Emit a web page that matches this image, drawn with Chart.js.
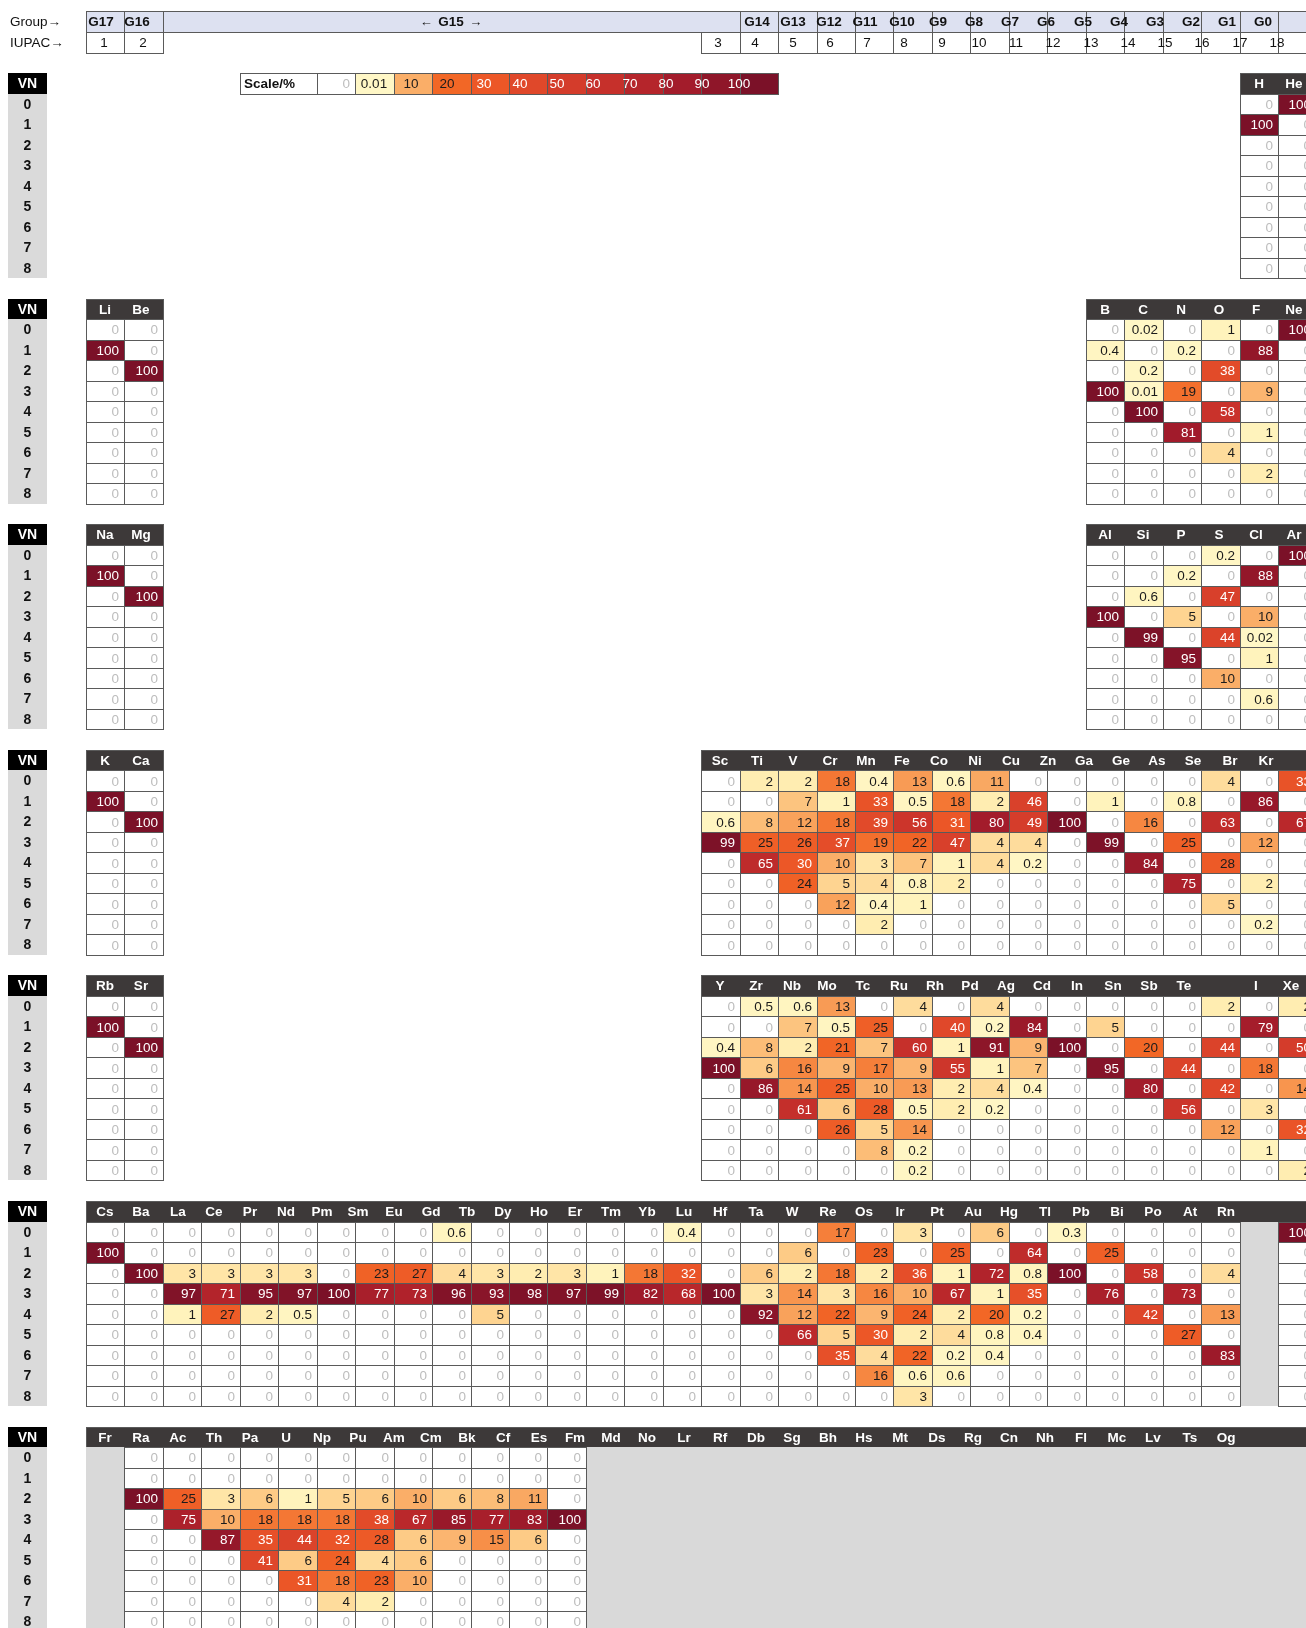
<!DOCTYPE html>
<html>
<head>
<meta charset="utf-8">
<script src="https://cdn.jsdelivr.net/npm/chart.js@4.4.1/dist/chart.umd.min.js"></script>
<style>
  html, body { margin: 0; padding: 0; background: #ffffff; }
  #wrap { width: 1306px; height: 1628px; overflow: hidden; }
  canvas { display: block; }
</style>
</head>
<body>
<div id="wrap"><canvas id="table" width="1306" height="1628"></canvas></div>
<script>
// ---------------------------------------------------------------
// Valence-number (VN) distribution per element, in percent.
// Each element lists the share of VN 0..8; null = no data.
// ---------------------------------------------------------------
const vnLabels = ['0', '1', '2', '3', '4', '5', '6', '7', '8'];

const groupLabels = ['G17', 'G16', 'G15', 'G14', 'G13', 'G12', 'G11', 'G10', 'G9', 'G8', 'G7', 'G6', 'G5', 'G4', 'G3', 'G2', 'G1', 'G0'];
const iupacLabels = ['1', '2', '3', '4', '5', '6', '7', '8', '9', '10', '11', '12', '13', '14', '15', '16', '17', '18'];

const scaleValues = [0, 0.01, 10, 20, 30, 40, 50, 60, 70, 80, 90, 100];
const scaleLabels = ['0', '0.01', '10', '20', '30', '40', '50', '60', '70', '80', '90', '100'];

// period 1
const p1Symbols = ['H', 'He'];
const p1Values = [
  [0, 100, 0, 0, 0, 0, 0, 0, 0],
  [100, 0, 0, 0, 0, 0, 0, 0, 0]
];

// period 2
const p2sSymbols = ['Li', 'Be'];
const p2sValues = [
  [0, 100, 0, 0, 0, 0, 0, 0, 0],
  [0, 0, 100, 0, 0, 0, 0, 0, 0]
];
const p2pSymbols = ['B', 'C', 'N', 'O', 'F', 'Ne'];
const p2pValues = [
  [0, 0.4, 0, 100, 0, 0, 0, 0, 0],
  [0.02, 0, 0.2, 0.01, 100, 0, 0, 0, 0],
  [0, 0.2, 0, 19, 0, 81, 0, 0, 0],
  [1, 0, 38, 0, 58, 0, 4, 0, 0],
  [0, 88, 0, 9, 0, 1, 0, 2, 0],
  [100, 0, 0, 0, 0, 0, 0, 0, 0]
];

// period 3
const p3sSymbols = ['Na', 'Mg'];
const p3sValues = [
  [0, 100, 0, 0, 0, 0, 0, 0, 0],
  [0, 0, 100, 0, 0, 0, 0, 0, 0]
];
const p3pSymbols = ['Al', 'Si', 'P', 'S', 'Cl', 'Ar'];
const p3pValues = [
  [0, 0, 0, 100, 0, 0, 0, 0, 0],
  [0, 0, 0.6, 0, 99, 0, 0, 0, 0],
  [0, 0.2, 0, 5, 0, 95, 0, 0, 0],
  [0.2, 0, 47, 0, 44, 0, 10, 0, 0],
  [0, 88, 0, 10, 0.02, 1, 0, 0.6, 0],
  [100, 0, 0, 0, 0, 0, 0, 0, 0]
];

// period 4
const p4sSymbols = ['K', 'Ca'];
const p4sValues = [
  [0, 100, 0, 0, 0, 0, 0, 0, 0],
  [0, 0, 100, 0, 0, 0, 0, 0, 0]
];
const p4dSymbols = ['Sc', 'Ti', 'V', 'Cr', 'Mn', 'Fe', 'Co', 'Ni', 'Cu', 'Zn', 'Ga', 'Ge', 'As', 'Se', 'Br', 'Kr'];
const p4dValues = [
  [0, 0, 0.6, 99, 0, 0, 0, 0, 0],
  [2, 0, 8, 25, 65, 0, 0, 0, 0],
  [2, 7, 12, 26, 30, 24, 0, 0, 0],
  [18, 1, 18, 37, 10, 5, 12, 0, 0],
  [0.4, 33, 39, 19, 3, 4, 0.4, 2, 0],
  [13, 0.5, 56, 22, 7, 0.8, 1, 0, 0],
  [0.6, 18, 31, 47, 1, 2, 0, 0, 0],
  [11, 2, 80, 4, 4, 0, 0, 0, 0],
  [0, 46, 49, 4, 0.2, 0, 0, 0, 0],
  [0, 0, 100, 0, 0, 0, 0, 0, 0],
  [0, 1, 0, 99, 0, 0, 0, 0, 0],
  [0, 0, 16, 0, 84, 0, 0, 0, 0],
  [0, 0.8, 0, 25, 0, 75, 0, 0, 0],
  [4, 0, 63, 0, 28, 0, 5, 0, 0],
  [0, 86, 0, 12, 0, 2, 0, 0.2, 0],
  [33, 0, 67, 0, 0, 0, 0, 0, 0]
];

// period 5
const p5sSymbols = ['Rb', 'Sr'];
const p5sValues = [
  [0, 100, 0, 0, 0, 0, 0, 0, 0],
  [0, 0, 100, 0, 0, 0, 0, 0, 0]
];
const p5dSymbols = ['Y', 'Zr', 'Nb', 'Mo', 'Tc', 'Ru', 'Rh', 'Pd', 'Ag', 'Cd', 'In', 'Sn', 'Sb', 'Te', 'I', 'Xe'];
const p5dHeader = ['Y', 'Zr', 'Nb', 'Mo', 'Tc', 'Ru', 'Rh', 'Pd', 'Ag', 'Cd', 'In', 'Sn', 'Sb', 'Te', '', 'I', 'Xe'];
const p5dValues = [
  [0, 0, 0.4, 100, 0, 0, 0, 0, 0],
  [0.5, 0, 8, 6, 86, 0, 0, 0, 0],
  [0.6, 7, 2, 16, 14, 61, 0, 0, 0],
  [13, 0.5, 21, 9, 25, 6, 26, 0, 0],
  [0, 25, 7, 17, 10, 28, 5, 8, 0],
  [4, 0, 60, 9, 13, 0.5, 14, 0.2, 0.2],
  [0, 40, 1, 55, 2, 2, 0, 0, 0],
  [4, 0.2, 91, 1, 4, 0.2, 0, 0, 0],
  [0, 84, 9, 7, 0.4, 0, 0, 0, 0],
  [0, 0, 100, 0, 0, 0, 0, 0, 0],
  [0, 5, 0, 95, 0, 0, 0, 0, 0],
  [0, 0, 20, 0, 80, 0, 0, 0, 0],
  [0, 0, 0, 44, 0, 56, 0, 0, 0],
  [2, 0, 44, 0, 42, 0, 12, 0, 0],
  [0, 79, 0, 18, 0, 3, 0, 1, 0],
  [2, 0, 50, 0, 14, 0, 32, 0, 2]
];

// period 6
const p6Symbols = ['Cs', 'Ba', 'La', 'Ce', 'Pr', 'Nd', 'Pm', 'Sm', 'Eu', 'Gd', 'Tb', 'Dy', 'Ho', 'Er', 'Tm', 'Yb',
  'Lu', 'Hf', 'Ta', 'W', 'Re', 'Os', 'Ir', 'Pt', 'Au', 'Hg', 'Tl', 'Pb', 'Bi', 'Po', 'At', 'Rn'];
const p6Values = [
  [0, 100, 0, 0, 0, 0, 0, 0, 0],
  [0, 0, 100, 0, 0, 0, 0, 0, 0],
  [0, 0, 3, 97, 1, 0, 0, 0, 0],
  [0, 0, 3, 71, 27, 0, 0, 0, 0],
  [0, 0, 3, 95, 2, 0, 0, 0, 0],
  [0, 0, 3, 97, 0.5, 0, 0, 0, 0],
  [0, 0, 0, 100, 0, 0, 0, 0, 0],
  [0, 0, 23, 77, 0, 0, 0, 0, 0],
  [0, 0, 27, 73, 0, 0, 0, 0, 0],
  [0.6, 0, 4, 96, 0, 0, 0, 0, 0],
  [0, 0, 3, 93, 5, 0, 0, 0, 0],
  [0, 0, 2, 98, 0, 0, 0, 0, 0],
  [0, 0, 3, 97, 0, 0, 0, 0, 0],
  [0, 0, 1, 99, 0, 0, 0, 0, 0],
  [0, 0, 18, 82, 0, 0, 0, 0, 0],
  [0.4, 0, 32, 68, 0, 0, 0, 0, 0],
  [0, 0, 0, 100, 0, 0, 0, 0, 0],
  [0, 0, 6, 3, 92, 0, 0, 0, 0],
  [0, 6, 2, 14, 12, 66, 0, 0, 0],
  [17, 0, 18, 3, 22, 5, 35, 0, 0],
  [0, 23, 2, 16, 9, 30, 4, 16, 0],
  [3, 0, 36, 10, 24, 2, 22, 0.6, 3],
  [0, 25, 1, 67, 2, 4, 0.2, 0.6, 0],
  [6, 0, 72, 1, 20, 0.8, 0.4, 0, 0],
  [0, 64, 0.8, 35, 0.2, 0.4, 0, 0, 0],
  [0.3, 0, 100, 0, 0, 0, 0, 0, 0],
  [0, 25, 0, 76, 0, 0, 0, 0, 0],
  [0, 0, 58, 0, 42, 0, 0, 0, 0],
  [0, 0, 0, 73, 0, 27, 0, 0, 0],
  [0, 0, 4, 0, 13, 0, 83, 0, 0],
  null,
  [100, 0, 0, 0, 0, 0, 0, 0, 0]
];

// period 7
const p7Symbols = ['Fr', 'Ra', 'Ac', 'Th', 'Pa', 'U', 'Np', 'Pu', 'Am', 'Cm', 'Bk', 'Cf', 'Es', 'Fm', 'Md', 'No',
  'Lr', 'Rf', 'Db', 'Sg', 'Bh', 'Hs', 'Mt', 'Ds', 'Rg', 'Cn', 'Nh', 'Fl', 'Mc', 'Lv', 'Ts', 'Og'];
const p7Values = [
  null,
  [0, 0, 100, 0, 0, 0, 0, 0, 0],
  [0, 0, 25, 75, 0, 0, 0, 0, 0],
  [0, 0, 3, 10, 87, 0, 0, 0, 0],
  [0, 0, 6, 18, 35, 41, 0, 0, 0],
  [0, 0, 1, 18, 44, 6, 31, 0, 0],
  [0, 0, 5, 18, 32, 24, 18, 4, 0],
  [0, 0, 6, 38, 28, 4, 23, 2, 0],
  [0, 0, 10, 67, 6, 6, 10, 0, 0],
  [0, 0, 6, 85, 9, 0, 0, 0, 0],
  [0, 0, 8, 77, 15, 0, 0, 0, 0],
  [0, 0, 11, 83, 6, 0, 0, 0, 0],
  [0, 0, 0, 100, 0, 0, 0, 0, 0],
  null, null, null, null, null, null, null, null, null, null, null, null, null, null, null, null, null, null
];

// ---------------------------------------------------------------
// Layout: one column unit per element, one row unit per VN row.
// ---------------------------------------------------------------
const X_MIN = -2.2367, X_MAX = 31.7295;
const Y_MIN = -0.56, Y_MAX = 78.82;
const VN_X0 = -2.02, VN_X1 = -1.02;
const PERIOD_STEP = 11, FIRST_BLOCK = 3;

const FONT = '"Liberation Sans", Arial, Helvetica, sans-serif';
const GRID = '#5a5a5a';
const HEADER_BG = '#3d3939';
const NODATA_BG = '#d9d9d9';
const GROUP_BG = '#dde1f1';

const blocks = [
  { period: 0, col: 30, symbols: p1Symbols, values: p1Values, header: p1Symbols, step: 0.93 },
  { period: 1, col: 0, symbols: p2sSymbols, values: p2sValues, header: p2sSymbols, step: 0.92 },
  { period: 1, col: 26, symbols: p2pSymbols, values: p2pValues, header: p2pSymbols, step: 0.985 },
  { period: 2, col: 0, symbols: p3sSymbols, values: p3sValues, header: p3sSymbols, step: 0.92 },
  { period: 2, col: 26, symbols: p3pSymbols, values: p3pValues, header: p3pSymbols, step: 0.985 },
  { period: 3, col: 0, symbols: p4sSymbols, values: p4sValues, header: p4sSymbols, step: 0.92 },
  { period: 3, col: 16, symbols: p4dSymbols, values: p4dValues, header: p4dSymbols, step: 0.946 },
  { period: 4, col: 0, symbols: p5sSymbols, values: p5sValues, header: p5sSymbols, step: 0.92 },
  { period: 4, col: 16, symbols: p5dSymbols, values: p5dValues, header: p5dHeader, step: 0.928 },
  { period: 5, col: 0, symbols: p6Symbols, values: p6Values, header: p6Symbols, step: 0.94 },
  { period: 6, col: 0, symbols: p7Symbols, values: p7Values, header: p7Symbols, step: 0.94 }
];
blocks.forEach(b => { b.top = FIRST_BLOCK + PERIOD_STEP * b.period; });

// colour ramp for percentages (white for 0)
const rampStops = [
  [0.01, [255, 247, 198]], [1, [255, 243, 188]], [2, [255, 237, 177]], [4, [254, 220, 156]],
  [6, [253, 203, 134]], [10, [250, 174, 104]], [15, [247, 143, 72]], [20, [242, 103, 38]],
  [30, [236, 87, 39]], [40, [224, 72, 42]], [50, [212, 60, 43]], [60, [198, 48, 43]],
  [70, [181, 37, 43]], [80, [163, 28, 43]], [90, [143, 22, 41]], [100, [123, 17, 40]]
];
function rgb(c) { return 'rgb(' + c.map(Math.round).join(',') + ')'; }
function rampColour(v) {
  if (v === null) return NODATA_BG;
  if (v === 0) return '#ffffff';
  if (v <= rampStops[0][0]) return rgb(rampStops[0][1]);
  for (let i = 1; i < rampStops.length; i++) {
    const [v1, c1] = rampStops[i];
    if (v <= v1) {
      const [v0, c0] = rampStops[i - 1];
      const t = (v - v0) / (v1 - v0);
      return rgb(c0.map((c, k) => c + (c1[k] - c) * t));
    }
  }
  return rgb(rampStops[rampStops.length - 1][1]);
}
function textColour(v) {
  if (v === 0) return '#bdbdbd';
  return v >= 30 ? '#ffffff' : '#1b1b1b';
}

// one point per table cell, placed on the chart's own x/y scales
const cellPoints = [];
blocks.forEach(b => {
  b.symbols.forEach((sym, j) => {
    const vals = b.values[j];
    vnLabels.forEach((vn, r) => {
      cellPoints.push({ x: b.col + j + 0.5, y: b.top + 1 + r + 0.5, v: vals ? vals[r] : null, el: sym, vn: vn });
    });
  });
});

const tablePlugin = {
  id: 'vnTable',
  afterDatasetsDraw(chart) {
    const ctx = chart.ctx;
    const xs = chart.scales.x, ys = chart.scales.y;
    const X = v => Math.round(xs.getPixelForValue(v));
    const Y = v => Math.round(ys.getPixelForValue(v));
    const box = (x0, y0, x1, y1, fill, stroke) => {
      const l = X(x0), r = X(x1), t = Y(y0), b = Y(y1);
      if (fill) { ctx.fillStyle = fill; ctx.fillRect(l, t, r - l, b - t); }
      if (stroke) { ctx.strokeStyle = stroke; ctx.lineWidth = 1; ctx.strokeRect(l + 0.5, t + 0.5, r - l, b - t); }
      return { l, r, t, b };
    };
    const label = (str, px, py, font, colour, align) => {
      ctx.font = font; ctx.fillStyle = colour; ctx.textAlign = align || 'center';
      ctx.textBaseline = 'middle';
      ctx.fillText(str, px, py);
    };
    const midY = (y0) => (Y(y0) + Y(y0 + 1)) / 2 + 1;
    const bold = (s) => 'bold ' + s + 'px ' + FONT;
    const reg = (s) => s + 'px ' + FONT;

    ctx.save();

    // ---- group / IUPAC header rows ----
    label('Group\u2192', X(-1.977), midY(0), reg(13.5), '#111', 'left');
    label('IUPAC\u2192', X(-1.977), midY(1), reg(13.5), '#111', 'left');
    box(0, 0, X_MAX + 1, 1, GROUP_BG, null);
    groupLabels.forEach((g, i) => {
      let span, tx;
      if (i < 2) { span = [i, i + 1]; tx = 0.4 + i * 0.92; }
      else if (i === 2) { span = [2, 17]; tx = 9.5; }
      else { span = [14 + i, 15 + i]; tx = 17.45 + (i - 3) * 0.941; }
      box(span[0], 0, span[1], 1, null, GRID);
      if (i === 2) {
        ctx.font = bold(13.5);
        const w = ctx.measureText(g).width;
        label(g, X(tx), midY(0), bold(13.5), '#111');
        label('\u2190', X(tx) - w / 2 - 12, midY(0), reg(13), '#111');
        label('\u2192', X(tx) + w / 2 + 12, midY(0), reg(13), '#111');
      } else {
        label(g, X(tx), midY(0), bold(13.5), '#111');
      }
    });
    iupacLabels.forEach((n, i) => {
      const c = i < 2 ? i : 14 + i;
      box(c, 1, c + 1, 2, '#ffffff', GRID);
      const tx = i < 2 ? c + 0.48 : 16.44 + (i - 2) * 0.969;
      label(n, X(tx), midY(1), reg(13.5), '#111');
    });

    // ---- colour scale ----
    const sTop = FIRST_BLOCK;
    box(4, sTop, 6, sTop + 1, '#ffffff', GRID);
    label('Scale/%', X(4) + 4, midY(sTop), bold(13.5), '#111', 'left');
    scaleValues.forEach((v, k) => {
      const c = 6 + k;
      const bx = box(c, sTop, c + 1, sTop + 1, rampColour(v), GRID);
      if (k === 0) label(scaleLabels[k], bx.r - 5, midY(sTop), reg(13.5), textColour(v), 'right');
      else label(scaleLabels[k], X(7.5 + (k - 1) * 0.948), midY(sTop), reg(13.5), textColour(v));
    });

    // ---- VN label columns ----
    for (let p = 0; p < 7; p++) {
      const top = FIRST_BLOCK + PERIOD_STEP * p;
      const hb = box(VN_X0, top, VN_X1, top + 1, '#000000', null);
      label('VN', (hb.l + hb.r) / 2, midY(top), bold(14), '#ffffff');
      box(VN_X0, top + 1, VN_X1, top + 1 + vnLabels.length, '#dadada', null);
      vnLabels.forEach((n, r) => label(n, (hb.l + hb.r) / 2, midY(top + 1 + r), bold(14), '#111'));
    }

    // ---- element header bars ----
    blocks.forEach(b => {
      box(b.col, b.top, b.col + b.symbols.length, b.top + 1, HEADER_BG, GRID);
      b.header.forEach((s, j) => {
        if (s) label(s, X(b.col + 0.5 + j * b.step), midY(b.top), bold(13.5), '#ffffff');
      });
    });

    // ---- heat-map cells ----
    const meta = chart.getDatasetMeta(0);
    const pts = chart.data.datasets[0].data;
    // no-data cells first (flat grey, no grid)
    pts.forEach(pt => { if (pt.v === null) box(pt.x - 0.5, pt.y - 0.5, pt.x + 0.5, pt.y + 0.5, NODATA_BG, null); });
    pts.forEach((pt, i) => {
      if (pt.v === null) return;
      const el = meta.data[i];
      const bx = box(pt.x - 0.5, pt.y - 0.5, pt.x + 0.5, pt.y + 0.5, rampColour(pt.v), GRID);
      label(String(pt.v), bx.r - 5, Math.round(el.y) + 1, reg(13.5), textColour(pt.v), 'right');
    });

    ctx.restore();
  }
};

new Chart(document.getElementById('table'), {
  type: 'scatter',
  data: {
    datasets: [{
      label: 'VN share (%)',
      data: cellPoints,
      pointRadius: 0,
      pointHoverRadius: 0
    }]
  },
  options: {
    responsive: false,
    animation: false,
    devicePixelRatio: 1,
    layout: { padding: 0 },
    events: [],
    scales: {
      x: { type: 'linear', min: X_MIN, max: X_MAX, display: false },
      y: { type: 'linear', min: Y_MIN, max: Y_MAX, reverse: true, display: false }
    },
    plugins: {
      legend: { display: false },
      title: { display: false },
      tooltip: { enabled: false }
    }
  },
  plugins: [tablePlugin]
});
</script>
</body>
</html>
